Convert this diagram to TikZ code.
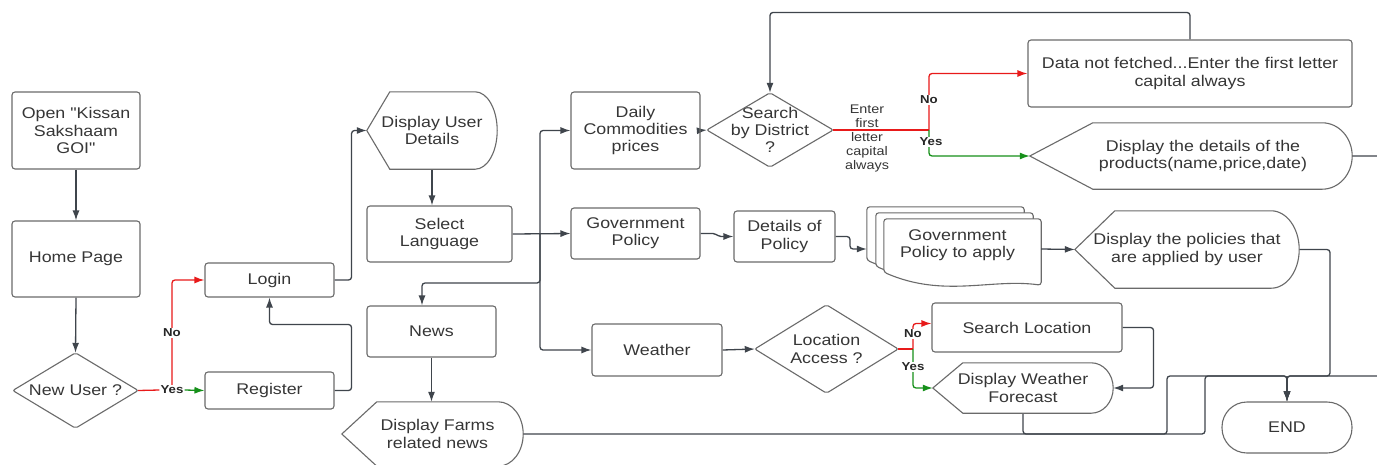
\documentclass[tikz,border=0pt]{standalone}
\usepackage{fontspec}
\setmainfont{Liberation Sans}[FakeStretch=1.15]
\newfontfamily\plainfont{Liberation Sans}[FakeStretch=1.15]
\usetikzlibrary{arrows.meta,calc}
\pgfdeclarelayer{bg}
\pgfdeclarelayer{ln}
\pgfsetlayers{bg,ln,main}

\definecolor{lnc}{HTML}{3F454C}
\definecolor{bdc}{HTML}{6A6A6A}
\definecolor{txc}{HTML}{363636}
\definecolor{redc}{HTML}{E81A1A}
\definecolor{grnc}{HTML}{16901A}

\newcommand\diamondpath[1]{\draw[bdr,rounded corners=2pt] (#1.west) -- (#1.north) -- (#1.east) -- (#1.south) -- cycle;}
\newcommand\displaypath[3]{\draw[bdr] let \p1=(#1.north), \p2=(#1.south), \n1={(\y1-\y2)/2} in (#1.west) -- ([xshift=#2]#1.north west) -- ([xshift=-#3]#1.north east) arc[start angle=90,end angle=-90,x radius=#3,y radius=\n1] -- ([xshift=#2]#1.south west) -- cycle;}
\newcommand\docpath[1]{\draw[bdr,fill=white,rounded corners=3pt] (#1.south west) -- (#1.north west) -- (#1.north east) -- ($(#1.south east)+(0,13)$) .. controls ($(#1.south east)+(-50,6)$) and ($(#1.south west)+(60,26)$) .. (#1.south west) -- cycle;}

\begin{document}
\begin{tikzpicture}[x=1pt,y=-1pt,
  every node/.style={font=\fontsize{15.5}{17.3}\selectfont, text=txc, align=center, inner sep=0pt},
  bdr/.style={draw=bdc, line width=1.1pt},
  box/.style={bdr, rounded corners=3pt},
  conn/.style={draw=lnc, line width=1.3pt, rounded corners=3pt},
  arr/.style={-{Latex[length=10pt,width=7pt]}},
  rc/.style={conn, draw=redc},
  gc/.style={conn, draw=grnc},
  lab/.style={font=\fontsize{11.5}{12}\selectfont\bfseries, fill=white, inner sep=1pt, text=black!85},
  hint/.style={font=\fontsize{12.5}{14}\selectfont, text=txc}]
\useasboundingbox (0,0) rectangle (1377,464);
\begin{pgfonlayer}{bg}
\fill[white] (0,0) rectangle (1377,464);
\end{pgfonlayer}

% nodes
\node[box, font=\plainfont\fontsize{15.5}{17.3}\selectfont, minimum width=128pt, minimum height=77pt] (open) at (76,130.5) {Open "Kissan\\Sakshaam\\GOI"};
\node[box, minimum width=128pt, minimum height=76pt] (home) at (76,259) {Home Page};
\node[minimum width=125pt, minimum height=75pt] (newu) at (75.5,390.5) {New User ?};
\node[box, minimum width=129pt, minimum height=34pt] (login) at (269.5,280) {Login};
\node[box, minimum width=129pt, minimum height=37pt] (reg) at (269.5,390.5) {Register};
\node[minimum width=130pt, minimum height=77pt] (dud) at (432,130.5) {Display User\\Details};
\node[box, minimum width=145pt, minimum height=56pt] (lang) at (439.5,234) {Select\\Language};
\node[box, minimum width=129pt, minimum height=51pt] (news) at (431.5,331.5) {News};
\node[minimum width=181pt, minimum height=64pt] (dfrn) at (432.5,434) {\hspace*{10pt}Display Farms\\\hspace*{10pt}related news};
\node[box, minimum width=129pt, minimum height=77pt] (dcp) at (635.5,130.5) {Daily\\Commodities\\prices};
\node[box, minimum width=129pt, minimum height=51pt] (gp) at (635.5,233.5) {Government\\Policy};
\node[box, minimum width=130pt, minimum height=52pt] (wea) at (657,350) {Weather};
\node[minimum width=143pt, minimum height=88pt] (loc) at (826.5,349) {Location\\Access ?};
\node[box, minimum width=190pt, minimum height=49pt] (sloc) at (1027,327.5) {Search Location};
\node[minimum width=180pt, minimum height=50pt] (dwf) at (1023,388) {Display Weather\\Forecast};
\node[box, rounded corners=25pt, minimum width=130pt, minimum height=51pt] (fin) at (1287,427.5) {END};
\node[minimum width=126pt, minimum height=74pt] (sbd) at (770,130) {Search\\by District\\?};
\node[box, minimum width=324pt, minimum height=67pt] (dnf) at (1190,73.5) {Data not fetched...Enter the first letter\\capital always};
\node[minimum width=322pt, minimum height=66pt] (dprod) at (1191,156) {\hspace*{24pt}Display the details of the\\\hspace*{24pt}products(name,price,date)};
\node[box, minimum width=101pt, minimum height=51pt] (dop) at (784.5,236.5) {Details of\\Policy};
\node[minimum width=157pt, minimum height=53pt] (doc1) at (945.5,233.5) {};
\node[minimum width=157pt, minimum height=53pt] (doc2) at (954.5,239.5) {};
\node[minimum width=157pt, minimum height=53pt] (doc3) at (962.5,245.5) {Government\hspace*{10pt}\\Policy to apply\hspace*{10pt}};
\node[minimum width=224pt, minimum height=77pt] (dpol) at (1187,249.5) {Display the policies that\\are applied by user};

% labels
\node[lab] (yes1) at (172,390) {Yes};
\node[lab] (no1) at (172,333) {No};
\node[lab] (no2) at (929,100) {No};
\node[lab] (yes2) at (931,142) {Yes};
\node[lab] (no3) at (913,334) {No};
\node[lab] (yes3) at (913,367) {Yes};
\node[hint] (hinttxt) at (867,138) {Enter\\first\\letter\\capital\\always};

% shapes
\diamondpath{newu}
\diamondpath{loc}
\diamondpath{sbd}
\displaypath{dud}{23pt}{22pt}
\displaypath{dfrn}{35pt}{25pt}
\displaypath{dwf}{30pt}{22pt}
\displaypath{dprod}{63pt}{30pt}
\displaypath{dpol}{40pt}{28pt}
\begin{pgfonlayer}{bg}
\docpath{doc1}
\docpath{doc2}
\docpath{doc3}
\end{pgfonlayer}

% connectors
\begin{pgfonlayer}{ln}
\coordinate (jn) at (540,234);
\coordinate (jn2) at (540,283);
\coordinate (br1) at (929,130);
\coordinate (br2) at (913,349);
\draw[conn,arr] (open.south) -- (home.north);
\draw[conn,arr] (home.south) -- (newu.north);
\draw[rc] (newu.east) -- (yes1.west);
\draw[rc,arr] (yes1.north) |- (login.west);
\draw[gc,arr] (yes1.east) -- (reg.west);
\draw[conn,arr] (reg.east) -- ++(17,0) -- ++(0,-66) -| (login.south);
\draw[conn,arr] (login.east) -- ++(17,0) |- (dud.west);
\draw[conn,arr] (dud.south) -- (dud.south |- lang.north);
\draw[conn,arr] (lang.east) -- (gp.west);
\draw[conn,arr] (jn) |- (dcp.west);
\draw[conn,arr] (jn) |- (wea.west);
\draw[conn,arr] (jn) -- (jn2) -| ([xshift=-9.5pt]news.north);
\draw[conn,arr] (news.south) -- (news.south |- dfrn.north);
\draw[conn,arr] (dcp.east) -- (sbd.west);
\draw[rc] (sbd.east) -- (br1);
\draw[rc,arr] (br1) |- (dnf.west);
\draw[gc,arr] (br1) |- (dprod.west);
\draw[conn,arr] (dnf.north) -- ++(0,-27) -| (sbd.north);
\draw[conn,arr,rounded corners=2pt] (gp.east) -- (715,233.5) -- (719,236.5) -- (dop.west);
\draw[conn,arr] (dop.east) -- (850,236.5) |- ($(doc1.west)+(0,15.5)$);
\draw[conn,arr] ([yshift=-3.5pt]doc3.east) -- (dpol.west);
\draw[conn,arr] (wea.east) -- (loc.west);
\draw[rc] (loc.east) -- (br2);
\draw[rc,arr] (br2) |- ([yshift=4pt]sloc.west);
\draw[gc,arr] (br2) |- (dwf.west);
\draw[conn,arr] (sloc.east) -- ++(31,0) |- (dwf.east);
\draw[conn,arr] (dwf.south) |- (1205,434) -- (1205,376) -| (fin.north);
\draw[conn,arr] (dfrn.east) -- (1167,434) -- (1167,376) -| (fin.north);
\draw[conn,arr] (dpol.east) -| (1330,376) -| (fin.north);
\draw[conn,arr] (dprod.east) -- (1395,156) -- (1395,376) -| (fin.north);
\end{pgfonlayer}
\end{tikzpicture}
\end{document}
